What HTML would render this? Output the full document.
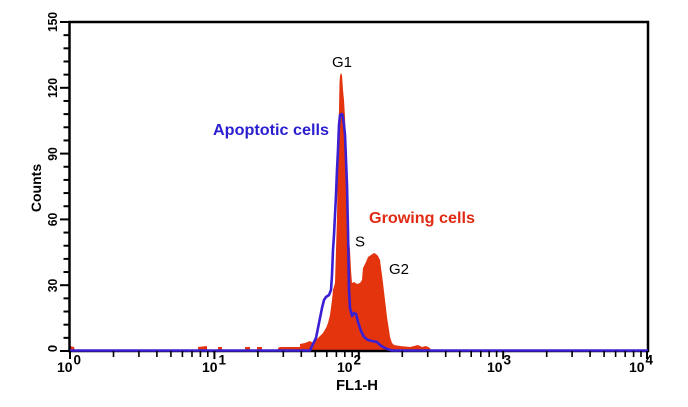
<!DOCTYPE html>
<html>
<head>
<meta charset="utf-8">
<style>
  html,body{margin:0;padding:0;background:#ffffff;}
  svg{display:block;}
  text{font-family:"Liberation Sans",Arial,sans-serif;}
</style>
</head>
<body>
<svg width="688" height="407" viewBox="0 0 688 407" xmlns="http://www.w3.org/2000/svg">
  <rect x="0" y="0" width="688" height="407" fill="#ffffff"/>

  <!-- Red filled histogram (Growing cells) -->
  <polygon fill="#e3340e" points="
    70,351 70,346 74,347 75,351
    198,351 198,347 207,346 207,351
    218,351 218,347 222,347 222,351
    245,351 245,347 250,347 250,351
    257,351 257,347 262,347 262,351
    278,351 278,348 280,347 300,347 300,344 305,343 310,341 313,343 316,340 320,336 323,333 326,328 328,323 330,315 332,300 333,290 335,283 336,250 337,217 338,150 339,110 339.5,83 340,76 341,73 342,75 343,90 344,100 345,117 346,150 347,170 348,183 348.5,220 349,240 350,250 351,270 352,283 354,282 357,284 360,283 362,280 363,268 366,262 368,257 371,255 374,253 376,254 378,256 380,260 381,268 382,275 383,283 385,300 387,317 389,330 390,337 392,343 394,345 400,346 410,347 418,345 422,347 426,346 430,348 431,351"/>

  <!-- Axes frame -->
  <rect x="69.5" y="22" width="578.5" height="329" fill="none" stroke="#000" stroke-width="2.5"/>

  <!-- Blue outline histogram (Apoptotic cells) -->
  <polyline fill="none" stroke="#3a20d2" stroke-width="2.6" stroke-linejoin="round" points="
    70,350.5 310,350.5 313,344 316,338 318,328 320,318 322,308 324,300 326,297 329,295 331,290 332,275 333,250 334,235 335,215 336,195 337,170 338,150 339,125 340,115 342,114 343,118 344,125 345,135 346,160 347,185 348,230 348.5,260 349,290 350,308 352,316 354,313 356,314 358,322 361,331 364,337 368,340 372,341 377,342 380,345 383,347 387,349 392,350.5 648,350.5"/>

  <!-- Y ticks -->
  <g stroke="#000" stroke-width="2">
    <line x1="60" y1="22" x2="69" y2="22"/>
    <line x1="60" y1="87.8" x2="69" y2="87.8"/>
    <line x1="60" y1="153.6" x2="69" y2="153.6"/>
    <line x1="60" y1="219.4" x2="69" y2="219.4"/>
    <line x1="60" y1="285.2" x2="69" y2="285.2"/>
    <line x1="60" y1="351" x2="69" y2="351"/>
    <line x1="63.5" y1="35.16" x2="69" y2="35.16"/>
    <line x1="63.5" y1="48.32" x2="69" y2="48.32"/>
    <line x1="63.5" y1="61.48" x2="69" y2="61.48"/>
    <line x1="63.5" y1="74.64" x2="69" y2="74.64"/>
    <line x1="63.5" y1="100.96" x2="69" y2="100.96"/>
    <line x1="63.5" y1="114.12" x2="69" y2="114.12"/>
    <line x1="63.5" y1="127.28" x2="69" y2="127.28"/>
    <line x1="63.5" y1="140.44" x2="69" y2="140.44"/>
    <line x1="63.5" y1="166.76" x2="69" y2="166.76"/>
    <line x1="63.5" y1="179.92" x2="69" y2="179.92"/>
    <line x1="63.5" y1="193.08" x2="69" y2="193.08"/>
    <line x1="63.5" y1="206.24" x2="69" y2="206.24"/>
    <line x1="63.5" y1="232.56" x2="69" y2="232.56"/>
    <line x1="63.5" y1="245.72" x2="69" y2="245.72"/>
    <line x1="63.5" y1="258.88" x2="69" y2="258.88"/>
    <line x1="63.5" y1="272.04" x2="69" y2="272.04"/>
    <line x1="63.5" y1="298.36" x2="69" y2="298.36"/>
    <line x1="63.5" y1="311.52" x2="69" y2="311.52"/>
    <line x1="63.5" y1="324.68" x2="69" y2="324.68"/>
    <line x1="63.5" y1="337.84" x2="69" y2="337.84"/>
  </g>

  <!-- X ticks -->
  <g stroke="#000" stroke-width="2">
    <line x1="70" y1="351" x2="70" y2="359"/>
    <line x1="214.4" y1="351" x2="214.4" y2="359"/>
    <line x1="358.8" y1="351" x2="358.8" y2="359"/>
    <line x1="503.2" y1="351" x2="503.2" y2="359"/>
    <line x1="647" y1="351" x2="647" y2="359"/>
  </g>
  <g stroke="#000" stroke-width="1.6">
    <line x1="113.5" y1="351" x2="113.5" y2="357"/>
    <line x1="138.9" y1="351" x2="138.9" y2="357"/>
    <line x1="156.9" y1="351" x2="156.9" y2="357"/>
    <line x1="170.9" y1="351" x2="170.9" y2="357"/>
    <line x1="182.4" y1="351" x2="182.4" y2="357"/>
    <line x1="192.0" y1="351" x2="192.0" y2="357"/>
    <line x1="200.4" y1="351" x2="200.4" y2="357"/>
    <line x1="207.8" y1="351" x2="207.8" y2="357"/>
    <line x1="257.9" y1="351" x2="257.9" y2="357"/>
    <line x1="283.3" y1="351" x2="283.3" y2="357"/>
    <line x1="301.3" y1="351" x2="301.3" y2="357"/>
    <line x1="315.3" y1="351" x2="315.3" y2="357"/>
    <line x1="326.8" y1="351" x2="326.8" y2="357"/>
    <line x1="336.4" y1="351" x2="336.4" y2="357"/>
    <line x1="344.8" y1="351" x2="344.8" y2="357"/>
    <line x1="352.2" y1="351" x2="352.2" y2="357"/>
    <line x1="402.3" y1="351" x2="402.3" y2="357"/>
    <line x1="427.7" y1="351" x2="427.7" y2="357"/>
    <line x1="445.7" y1="351" x2="445.7" y2="357"/>
    <line x1="459.7" y1="351" x2="459.7" y2="357"/>
    <line x1="471.2" y1="351" x2="471.2" y2="357"/>
    <line x1="480.8" y1="351" x2="480.8" y2="357"/>
    <line x1="489.2" y1="351" x2="489.2" y2="357"/>
    <line x1="496.6" y1="351" x2="496.6" y2="357"/>
    <line x1="546.7" y1="351" x2="546.7" y2="357"/>
    <line x1="572.1" y1="351" x2="572.1" y2="357"/>
    <line x1="590.1" y1="351" x2="590.1" y2="357"/>
    <line x1="604.1" y1="351" x2="604.1" y2="357"/>
    <line x1="615.6" y1="351" x2="615.6" y2="357"/>
    <line x1="625.2" y1="351" x2="625.2" y2="357"/>
    <line x1="633.6" y1="351" x2="633.6" y2="357"/>
    <line x1="641.0" y1="351" x2="641.0" y2="357"/>
  </g>

  <!-- Y tick labels (rotated) -->
  <g font-size="13" font-weight="bold" fill="#000" text-anchor="middle">
    <text x="57" y="22" transform="rotate(-90 57 22)" textLength="20" lengthAdjust="spacingAndGlyphs">150</text>
    <text x="57" y="88" transform="rotate(-90 57 88)" textLength="20" lengthAdjust="spacingAndGlyphs">120</text>
    <text x="57" y="154" transform="rotate(-90 57 154)" textLength="13.5" lengthAdjust="spacingAndGlyphs">90</text>
    <text x="57" y="219.5" transform="rotate(-90 57 219.5)" textLength="13.5" lengthAdjust="spacingAndGlyphs">60</text>
    <text x="57" y="285.5" transform="rotate(-90 57 285.5)" textLength="13.5" lengthAdjust="spacingAndGlyphs">30</text>
    <text x="57" y="348.5" transform="rotate(-90 57 348.5)">0</text>
  </g>
  <text x="41" y="188" transform="rotate(-90 41 188)" font-size="14" font-weight="bold" text-anchor="middle" fill="#000">Counts</text>

  <!-- X tick labels -->
  <g font-size="14" font-weight="bold" fill="#000">
    <text x="57" y="372">10</text><text x="73.5" y="364.5" font-size="13.5">0</text>
    <text x="202" y="372">10</text><text x="218.5" y="364.5" font-size="13.5">1</text>
    <text x="337" y="372">10</text><text x="353.5" y="364.5" font-size="13.5">2</text>
    <text x="487" y="372">10</text><text x="503.5" y="364.5" font-size="13.5">3</text>
    <text x="629" y="372">10</text><text x="645.5" y="364.5" font-size="13.5">4</text>
  </g>
  <text x="336" y="390" font-size="14.5" font-weight="bold" fill="#000" textLength="42" lengthAdjust="spacingAndGlyphs">FL1-H</text>

  <!-- Annotations -->
  <text x="332" y="67" font-size="15" fill="#000">G1</text>
  <text x="213" y="135" font-size="16" font-weight="bold" fill="#2a1ed0" textLength="116" lengthAdjust="spacingAndGlyphs">Apoptotic cells</text>
  <text x="369" y="223" font-size="16" font-weight="bold" fill="#e02a14" textLength="106" lengthAdjust="spacingAndGlyphs">Growing cells</text>
  <text x="355" y="246.5" font-size="15" fill="#000">S</text>
  <text x="389" y="274" font-size="15" fill="#000">G2</text>
</svg>
</body>
</html>
